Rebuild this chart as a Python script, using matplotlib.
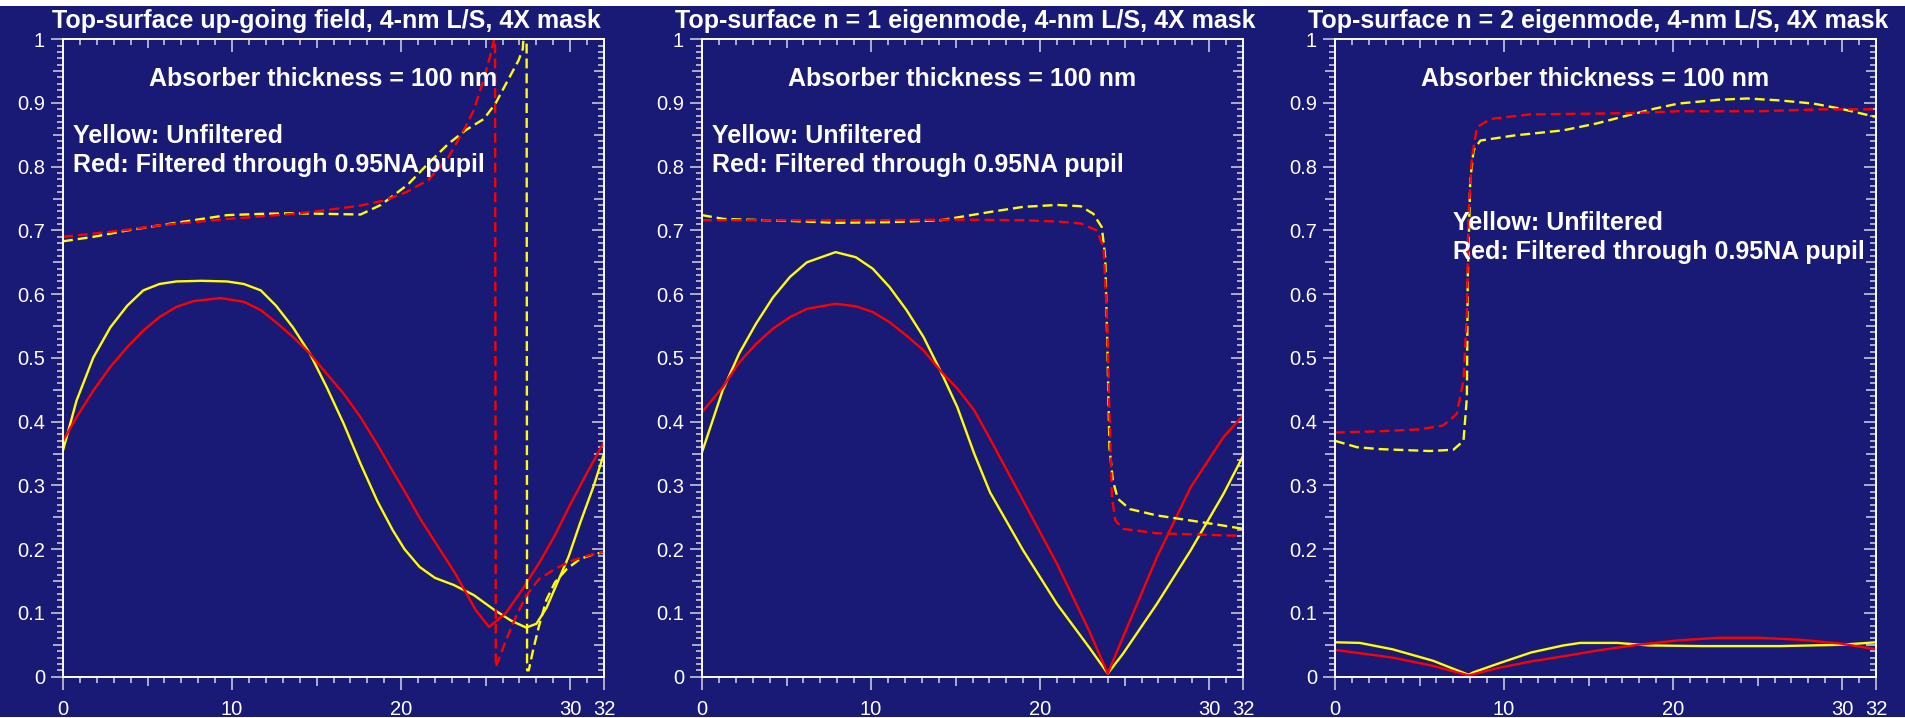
import numpy as np
import matplotlib.pyplot as plt
from matplotlib.patches import Rectangle

plt.rcParams['font.family'] = ['Liberation Sans', 'DejaVu Sans']

NAVY = '#191976'
TICK = '#d4d4e4'

titles = ['Top-surface up-going field, 4-nm L/S, 4X mask',
          'Top-surface n = 1 eigenmode, 4-nm L/S, 4X mask',
          'Top-surface n = 2 eigenmode, 4-nm L/S, 4X mask']
x_tick_vals = [0, 10, 20, 30, 32]
x_tick_text = ['0', '10', '20', '30', '32']

# panel 1: up-going field
p1_unf_x = [0, 0.8, 1.8, 2.8, 3.8, 4.75, 5.7, 6.7, 8.2, 9.7, 10.7, 11.7, 12.6, 13.6, 14.6, 15.6, 16.6,
            17.6, 18.6, 19.5, 20.2, 21.1, 22.0, 23.1, 24.3, 25.5, 26.5, 27.4, 28.0, 28.6, 29.2, 29.9,
            30.6, 31.4, 32]
p1_unf_y = [0.355, 0.433, 0.501, 0.548, 0.582, 0.606, 0.616, 0.62, 0.621, 0.62, 0.616, 0.606, 0.582,
            0.548, 0.507, 0.454, 0.397, 0.334, 0.275, 0.23, 0.2, 0.172, 0.155, 0.144, 0.128, 0.105,
            0.088, 0.077, 0.083, 0.108, 0.145, 0.188, 0.242, 0.3, 0.35]
p1_fil_x = [0, 0.8, 1.8, 2.8, 3.8, 4.75, 5.7, 6.7, 7.7, 9.3, 10.7, 11.7, 12.6, 13.6, 14.6, 15.6, 16.6,
            17.6, 18.6, 19.6, 20.4, 21.1, 23.2, 24.4, 25.2, 26.2, 27.2, 28.2, 29.1, 30.0, 31.0, 32]
p1_fil_y = [0.37, 0.407, 0.449, 0.486, 0.517, 0.543, 0.564, 0.58, 0.589, 0.594, 0.588, 0.575, 0.556,
            0.533, 0.507, 0.475, 0.444, 0.407, 0.364, 0.318, 0.282, 0.249, 0.162, 0.105, 0.078, 0.1,
            0.138, 0.18, 0.222, 0.27, 0.32, 0.368]
p1_unf_d_x = [0, 1.8, 3.8, 5.7, 7.7, 9.7, 11.7, 13.6, 15.6, 17.6, 18.8, 20.4, 21.6, 22.8, 23.8, 24.9,
              25.6, 26.2, 26.95, 27.2, 27.42, 27.45, 27.55, 27.8, 28.15, 28.6, 29.1, 29.8, 30.6, 31.5, 32]
p1_unf_d_y = [0.683, 0.69, 0.7, 0.708, 0.716, 0.724, 0.726, 0.727, 0.726, 0.725, 0.74, 0.772, 0.805,
              0.836, 0.857, 0.875, 0.9, 0.93, 0.967, 0.985, 1.1, 0.01, 0.01, 0.041, 0.079, 0.121,
              0.148, 0.169, 0.185, 0.193, 0.195]
p1_fil_d_x = [0, 1.8, 3.8, 5.7, 7.7, 9.7, 11.7, 13.6, 15.6, 17.6, 19.0, 20.3, 21.6, 22.8, 23.8, 24.3,
              24.8, 25.25, 25.5, 25.55, 25.6, 26.2, 26.8, 27.4, 28.15, 29.1, 30.1, 31.05, 32]
p1_fil_d_y = [0.69, 0.695, 0.701, 0.708, 0.713, 0.718, 0.722, 0.726, 0.732, 0.739, 0.747, 0.76, 0.779,
              0.815, 0.862, 0.889, 0.93, 0.972, 1.0, 1.1, 0.015, 0.057, 0.095, 0.127, 0.153, 0.169,
              0.182, 0.19, 0.196]

# panel 2: n = 1 eigenmode
p2_unf_x = [0, 1.22, 2.2, 3.2, 4.2, 5.2, 6.2, 7.9, 9.1, 10.1, 11.1, 12.1, 13.1, 14.1, 15.1, 16.1, 17.04,
            19.0, 21.0, 22.9, 24.0, 24.9, 26.9, 28.9, 30.85, 32]
p2_unf_y = [0.352, 0.449, 0.507, 0.554, 0.595, 0.627, 0.65, 0.666, 0.658, 0.64, 0.611, 0.575, 0.533,
            0.48, 0.423, 0.35, 0.289, 0.198, 0.114, 0.046, 0.005, 0.036, 0.114, 0.198, 0.287, 0.346]
p2_fil_x = [0, 1.22, 2.2, 3.2, 4.2, 5.2, 6.2, 7.9, 9.1, 10.1, 11.1, 12.1, 13.1, 14.1, 15.1, 16.1, 17.04,
            19.0, 21.0, 22.9, 24.0, 24.9, 26.9, 28.9, 30.85, 32]
p2_fil_y = [0.415, 0.454, 0.493, 0.522, 0.546, 0.564, 0.577, 0.585, 0.581, 0.572, 0.556, 0.535, 0.512,
            0.48, 0.452, 0.418, 0.373, 0.276, 0.177, 0.072, 0.005, 0.062, 0.187, 0.297, 0.376, 0.41]
p2_unf_d_x = [0, 1.3, 5.2, 7.9, 11.1, 14.1, 17.04, 19.0, 21.0, 22.4, 23.15, 23.65, 23.85, 23.98, 24.1,
              24.3, 24.6, 25.3, 26.9, 28.9, 30.85, 32]
p2_unf_d_y = [0.724, 0.718, 0.715, 0.712, 0.713, 0.716, 0.729, 0.737, 0.74, 0.738, 0.726, 0.705, 0.658,
              0.517, 0.36, 0.308, 0.279, 0.263, 0.253, 0.245, 0.237, 0.232]
p2_fil_d_x = [0, 5.0, 10.0, 15.0, 19.0, 21.0, 22.4, 23.35, 23.75, 23.95, 24.1, 24.25, 24.45, 24.9, 26.9,
              31.8, 32]
p2_fil_d_y = [0.716, 0.716, 0.716, 0.717, 0.716, 0.714, 0.711, 0.7, 0.674, 0.569, 0.413, 0.281, 0.245,
              0.232, 0.225, 0.221, 0.221]

# panel 3: n = 2 eigenmode
p3_unf_x = [0, 1.47, 3.4, 5.8, 7.9, 8.2, 9.7, 11.6, 13.5, 14.5, 16.7, 18.6, 21.8, 26.3, 29.9, 32]
p3_unf_y = [0.054, 0.053, 0.043, 0.025, 0.003, 0.007, 0.021, 0.038, 0.049, 0.053, 0.053, 0.049, 0.048,
            0.048, 0.05, 0.054]
p3_fil_x = [0, 3.4, 5.8, 7.9, 9.7, 11.6, 13.5, 15.5, 17.9, 20.3, 22.7, 25.1, 27.5, 29.9, 32]
p3_fil_y = [0.042, 0.03, 0.017, 0.002, 0.014, 0.024, 0.032, 0.041, 0.05, 0.057, 0.061, 0.061, 0.058,
            0.052, 0.043]
p3_unf_d_x = [0, 1.3, 2.66, 5.6, 7.0, 7.6, 7.8, 7.85, 8.0, 8.2, 8.6, 10.6, 13.5, 15.5, 17.4, 18.9, 20.3,
              22.7, 24.4, 26.3, 28.3, 29.9, 31.2, 32]
p3_unf_d_y = [0.37, 0.36, 0.357, 0.354, 0.356, 0.37, 0.438, 0.622, 0.779, 0.826, 0.841, 0.849, 0.857,
              0.868, 0.881, 0.891, 0.899, 0.905, 0.907, 0.904, 0.899, 0.891, 0.883, 0.878]
p3_fil_d_x = [0, 2.66, 5.0, 6.4, 7.2, 7.6, 7.8, 7.9, 8.1, 8.4, 9.2, 11.5, 17.4, 20.3, 25.1, 28.7, 32]
p3_fil_d_y = [0.383, 0.385, 0.388, 0.394, 0.412, 0.465, 0.569, 0.726, 0.815, 0.862, 0.875, 0.882, 0.884,
              0.887, 0.887, 0.89, 0.89]

panels = [
    (p1_unf_x, p1_unf_y, p1_fil_x, p1_fil_y, p1_unf_d_x, p1_unf_d_y, p1_fil_d_x, p1_fil_d_y),
    (p2_unf_x, p2_unf_y, p2_fil_x, p2_fil_y, p2_unf_d_x, p2_unf_d_y, p2_fil_d_x, p2_fil_d_y),
    (p3_unf_x, p3_unf_y, p3_fil_x, p3_fil_y, p3_unf_d_x, p3_unf_d_y, p3_fil_d_x, p3_fil_d_y),
]
legend_pos = [(0.6, 0.848, 0.802), (0.6, 0.848, 0.802), (6.96, 0.712, 0.666)]

x_minor = [i for i in range(1, 32) if i % 5]
x_mid = [5, 15, 25]
y_major = [i / 10 for i in range(11)]
y_minor = [i / 100 for i in range(1, 100) if i % 5]
y_mid = [i / 100 for i in range(5, 100, 10)]


def extra_ticks(ax, side, major, minor, length, direction):
    # tick rows that the main axis can't hold (inward top/right, mid-length ticks)
    if side in ('top', 'bottom'):
        sec = ax.secondary_xaxis(side)
        sec.set_xticks(major)
        sec.set_xticks(minor, minor=True)
        axis = 'x'
    else:
        sec = ax.secondary_yaxis(side)
        sec.set_yticks(major)
        sec.set_yticks(minor, minor=True)
        axis = 'y'
    sec.tick_params(axis=axis, which='major', length=length, width=1.1, color=TICK,
                    direction=direction, labelleft=False, labelright=False,
                    labeltop=False, labelbottom=False)
    sec.tick_params(axis=axis, which='minor', length=4.3, width=1.1, color=TICK,
                    direction=direction)
    for s in sec.spines.values():
        s.set_visible(False)


fig = plt.figure(figsize=(19.05, 7.18), dpi=100, facecolor=NAVY)
fig.patches.append(Rectangle((0, 1 - 6 / 718), 1, 6 / 718, transform=fig.transFigure,
                             facecolor='white', edgecolor='none'))
fig.patches.append(Rectangle((0, 0), 1, 1.5 / 718, transform=fig.transFigure,
                             facecolor='white', edgecolor='none'))

lefts = [63 / 1905, 702 / 1905, 1335 / 1905]
for k, (left, data) in enumerate(zip(lefts, panels)):
    ax = fig.add_axes([left, 41.3 / 718, 541 / 1905, 637.5 / 718])
    ax.set_facecolor(NAVY)
    ux, uy, fx, fy, udx, udy, fdx, fdy = data
    ax.plot(ux, uy, color='#ffff00', lw=1.7)
    ax.plot(fx, fy, color='#ff0000', lw=1.7)
    ax.plot(udx, udy, color='#ffff00', lw=1.7, ls=(0, (4.2, 2.1)))
    ax.plot(fdx, fdy, color='#ff0000', lw=1.7, ls=(0, (4.2, 2.1)))

    ax.set_xlim(0, 32)
    ax.set_ylim(0, 1)
    for s in ax.spines.values():
        s.set_color('white')
        s.set_linewidth(1.4)

    ax.set_xticks(x_tick_vals)
    ax.set_xticklabels(x_tick_text)
    ax.set_xticks(x_minor, minor=True)
    ax.set_yticks(y_major)
    ax.set_yticklabels(['%g' % v for v in y_major])
    ax.set_yticks(y_minor, minor=True)
    ax.tick_params(axis='x', which='major', length=9, width=1.1, color=TICK, direction='out',
                   labelcolor='white', labelsize=14.5, pad=8)
    ax.tick_params(axis='y', which='major', length=9, width=1.1, color=TICK, direction='out',
                   labelcolor='white', labelsize=14.5, pad=4)
    ax.tick_params(which='minor', length=4.3, width=1.1, color=TICK, direction='out')

    extra_ticks(ax, 'bottom', x_mid, [], 6.7, 'out')
    extra_ticks(ax, 'left', y_mid, [], 7, 'out')
    extra_ticks(ax, 'top', [0, 10, 20, 30], x_minor, 9, 'in')
    extra_ticks(ax, 'top', x_mid, [], 6.7, 'in')
    extra_ticks(ax, 'right', y_major, y_minor, 9, 'in')
    extra_ticks(ax, 'right', y_mid, [], 7, 'in')

    ax.set_title(titles[k], color='white', fontsize=18, fontweight='bold', pad=8, x=0.487)
    ax.text(15.4, 0.937, 'Absorber thickness = 100 nm', color='white', fontsize=18,
            fontweight='bold', ha='center', va='center')
    lx, ly1, ly2 = legend_pos[k]
    ax.text(lx, ly1, 'Yellow: Unfiltered', color='white', fontsize=18, fontweight='bold',
            ha='left', va='center')
    ax.text(lx, ly2, 'Red: Filtered through 0.95NA pupil', color='white', fontsize=18,
            fontweight='bold', ha='left', va='center')

fig.savefig('out.png', dpi=100, facecolor=NAVY)
